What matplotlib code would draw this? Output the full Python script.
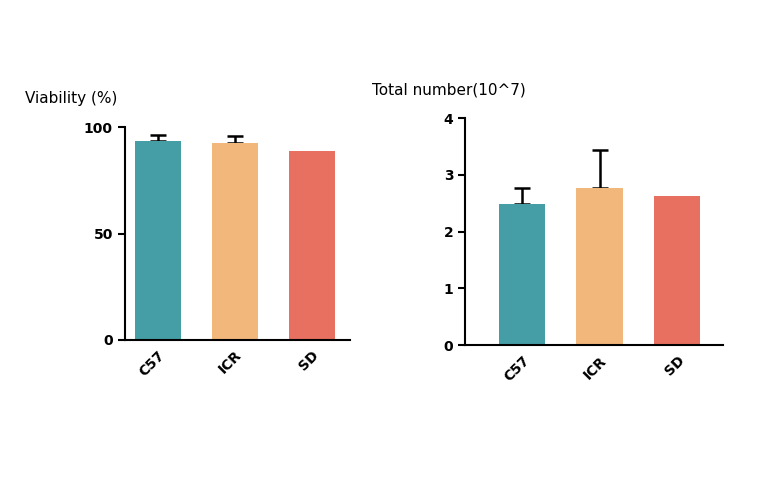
import matplotlib
matplotlib.use("Agg")
import matplotlib.pyplot as plt

categories = ["C57", "ICR", "SD"]
viability = [93.3, 92.5, 88.6]
viability_err = [2.8, 3.5, 0.0]
total = [2.49, 2.77, 2.62]
total_err = [0.28, 0.66, 0.0]
colors = ["#459DA6", "#F2B77B", "#E87060"]

fig = plt.figure(figsize=(7.6, 4.8), dpi=100)

def draw(ax, vals, errs, ylim, yticks, xlim):
    x = list(range(len(categories)))
    ax.bar(x, vals, width=0.6, color=colors, zorder=2)
    for xi, v, e, c in zip(x, vals, errs, colors):
        if e > 0:
            ax.errorbar(xi, v, yerr=[[0], [e]], fmt="none", ecolor="black",
                        elinewidth=1.8, capsize=6, capthick=1.8, zorder=1)
    ax.set_ylim(*ylim)
    ax.set_xlim(*xlim)
    ax.set_yticks(yticks)
    ax.set_xticks(x)
    ax.set_xticklabels(categories, rotation=45, ha="right", rotation_mode="anchor",
                       fontweight="bold", fontsize=10)
    for lab in ax.get_yticklabels():
        lab.set_fontweight("bold")
        lab.set_fontsize(10)
    for s in ["top", "right"]:
        ax.spines[s].set_visible(False)
    for s in ["left", "bottom"]:
        ax.spines[s].set_linewidth(1.5)
    ax.tick_params(axis="y", width=1.5, length=5)
    ax.tick_params(axis="x", length=0, pad=6)

ax1 = fig.add_axes([0.164, 0.292, 0.296, 0.443])
draw(ax1, viability, viability_err, (0, 100), [0, 50, 100], (-0.43, 2.49))
ax2 = fig.add_axes([0.612, 0.281, 0.339, 0.473])
draw(ax2, total, total_err, (0, 4), [0, 1, 2, 3, 4], (-0.735, 2.59))

fig.text(25 / 760, 1 - 98 / 480, "Viability (%)", fontsize=11, va="center", ha="left")
fig.text(372 / 760, 1 - 90 / 480, "Total number(10^7)", fontsize=11, va="center", ha="left")

fig.savefig("out.png", dpi=100, facecolor="white")
